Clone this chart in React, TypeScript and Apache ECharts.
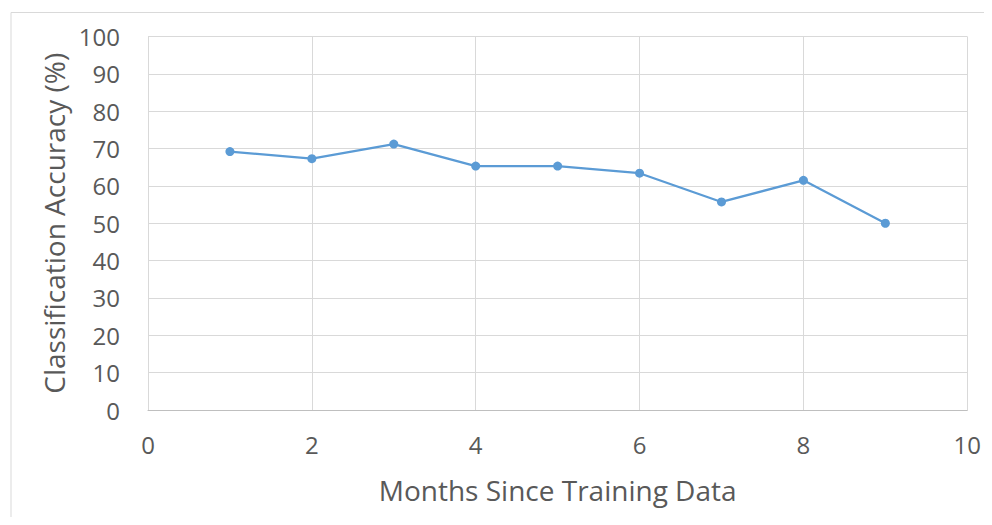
import React, { useEffect, useRef } from "react";
import * as echarts from "echarts";

const months = [1, 2, 3, 4, 5, 6, 7, 8, 9];
const accuracy = [69.2, 67.3, 71.2, 65.3, 65.3, 63.4, 55.7, 61.5, 50.0];
const xTitle = "Months Since Training Data";
const yTitle = "Classification Accuracy (%)";

export default function App() {
  const ref = useRef<HTMLDivElement>(null);
  useEffect(() => {
    if (!ref.current) return;
    const chart = echarts.init(ref.current, null, { renderer: "svg" });
    const font = "Open Sans, Lato, sans-serif";
    chart.setOption({
      animation: false,
      graphic: [
        {
          type: "rect",
          left: 0.5,
          top: 2,
          shape: { width: 1100, height: 700 },
          style: { fill: "none", stroke: "#d9d9d9", lineWidth: 1 },
          silent: true,
        },
      ],
      grid: { left: 140, top: 28.5, right: 14, bottom: 107, containLabel: false },
      xAxis: {
        type: "value",
        min: 0,
        max: 10,
        interval: 2,
        name: xTitle,
        nameLocation: "middle",
        nameGap: 66,
        nameTextStyle: { fontSize: 28, color: "#595959", fontFamily: font },
        axisLine: { show: true, lineStyle: { color: "#bfbfbf", width: 1 } },
        axisTick: { show: false },
        axisLabel: { fontSize: 24, color: "#595959", fontFamily: font, margin: 22 },
        splitLine: { show: true, lineStyle: { color: "#d9d9d9", width: 1 } },
      },
      yAxis: {
        type: "value",
        min: 0,
        max: 100,
        interval: 10,
        name: yTitle,
        nameLocation: "middle",
        nameGap: 79,
        nameTextStyle: { fontSize: 28, color: "#595959", fontFamily: font },
        axisLine: { show: true, lineStyle: { color: "#d9d9d9", width: 1 } },
        axisTick: { show: false },
        axisLabel: { fontSize: 24, color: "#595959", fontFamily: font, margin: 28 },
        splitLine: { show: true, lineStyle: { color: "#d9d9d9", width: 1 } },
      },
      series: [
        {
          type: "line",
          data: months.map((m, i) => [m, accuracy[i]]),
          symbol: "circle",
          symbolSize: 9,
          itemStyle: { color: "#5b9bd5" },
          lineStyle: { color: "#5b9bd5", width: 2.25 },
        },
      ],
    });
    return () => chart.dispose();
  }, []);
  return <div ref={ref} style={{ width: 976, height: 509 }} />;
}
